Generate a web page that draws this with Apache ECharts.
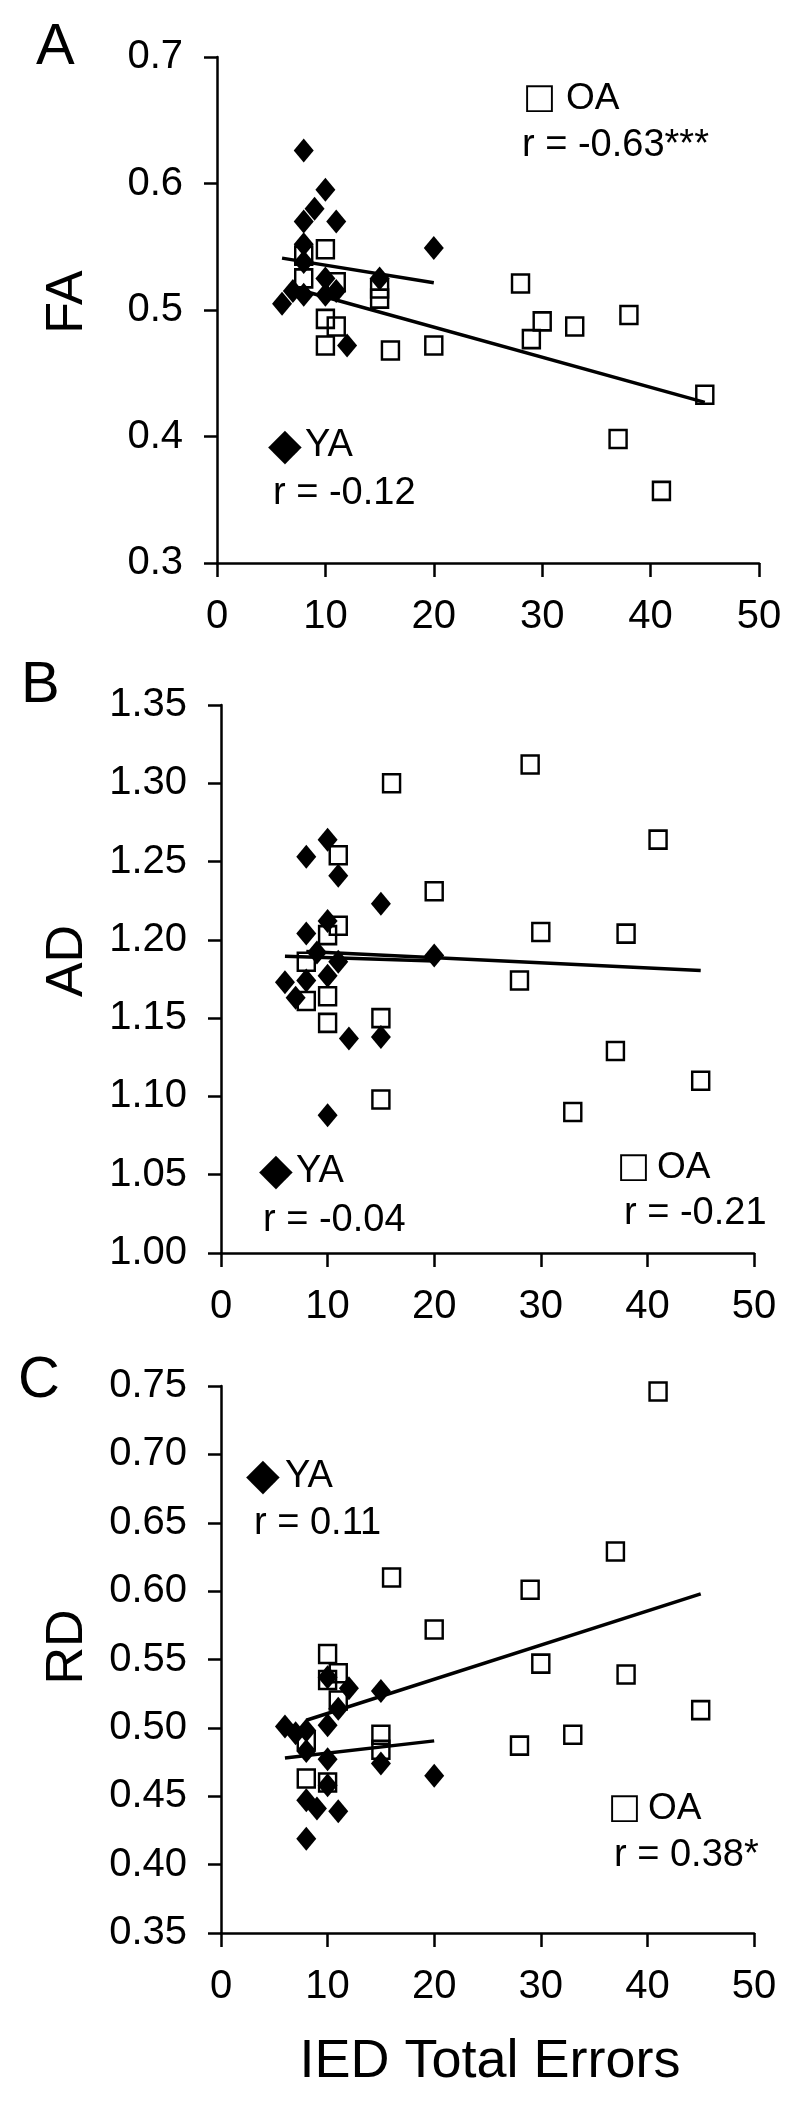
<!DOCTYPE html>
<html>
<head>
<meta charset="utf-8">
<script src="https://cdn.jsdelivr.net/npm/echarts@6/dist/echarts.min.js"></script>
<style>
  html, body { margin: 0; padding: 0; background: #fff; }
  #chart { width: 800px; height: 2108px; }
</style>
</head>
<body>
<div id="chart"></div>
<script>
// IED total errors (x) for each group, per panel
var faYaErrors = [6, 7, 8, 8, 8, 8, 8, 9, 10, 10, 10, 11, 11, 12, 15, 20];
var faYa       = [0.505, 0.515, 0.626, 0.570, 0.552, 0.538, 0.512, 0.580, 0.595, 0.525, 0.512, 0.570, 0.515, 0.472, 0.525, 0.549];
var faOaErrors = [8, 8, 10, 10, 10, 11, 11, 15, 15, 16, 20, 28, 29, 30, 33, 37, 38, 41, 45];
var faOa       = [0.543, 0.525, 0.548, 0.493, 0.472, 0.522, 0.487, 0.517, 0.509, 0.468, 0.472, 0.521, 0.477, 0.491, 0.487, 0.398, 0.496, 0.357, 0.433];

var adYaErrors = [6, 7, 8, 8, 8, 9, 10, 10, 10, 10, 11, 11, 12, 15, 15, 20];
var adYa       = [1.173, 1.163, 1.253, 1.204, 1.174, 1.192, 1.264, 1.212, 1.177, 1.088, 1.241, 1.186, 1.137, 1.223, 1.138, 1.190];
var adOaErrors = [8, 8, 10, 10, 10, 11, 11, 15, 15, 16, 20, 28, 29, 30, 33, 37, 38, 41, 45];
var adOa       = [1.186, 1.161, 1.203, 1.164, 1.147, 1.254, 1.209, 1.150, 1.098, 1.300, 1.231, 1.174, 1.312, 1.205, 1.090, 1.129, 1.204, 1.264, 1.110];

var rdYaErrors = [6, 7, 8, 8, 8, 8, 9, 10, 10, 10, 10, 11, 11, 12, 15, 15, 20];
var rdYa       = [0.501, 0.496, 0.498, 0.483, 0.447, 0.419, 0.441, 0.537, 0.502, 0.477, 0.458, 0.514, 0.439, 0.529, 0.527, 0.474, 0.465];
var rdOaErrors = [8, 8, 10, 10, 10, 11, 11, 15, 15, 16, 20, 28, 29, 30, 33, 37, 38, 41, 45];
var rdOa       = [0.491, 0.463, 0.554, 0.535, 0.460, 0.540, 0.520, 0.495, 0.484, 0.610, 0.572, 0.487, 0.601, 0.547, 0.495, 0.629, 0.539, 0.746, 0.513];

// regression lines (end points)
var faYaFit = [[6, 0.541], [20, 0.5215]];
var faOaFit = [[8, 0.515], [45, 0.427]];
var adYaFit = [[6, 1.1895], [20, 1.1865]];
var adOaFit = [[8, 1.1925], [45, 1.1805]];
var rdYaFit = [[6, 0.478], [20, 0.4905]];
var rdOaFit = [[8, 0.5056], [45, 0.598]];

var xTicks = [0, 50, 10];          // min, max, interval
var faTicks = [0.3, 0.7, 0.1];
var adTicks = [1.00, 1.35, 0.05];
var rdTicks = [0.35, 0.75, 0.05];

var FONT = '"Liberation Sans", Arial, sans-serif';

function pairs(xs, ys) {
    return xs.map(function (x, i) { return [x, ys[i]]; });
}

function xAxis(idx) {
    return {
        type: 'value', gridIndex: idx,
        min: xTicks[0], max: xTicks[1], interval: xTicks[2],
        splitLine: {show: false},
        axisLine: {show: true, onZero: false, lineStyle: {color: '#000', width: 2.5}},
        axisTick: {show: true, length: 14, lineStyle: {color: '#000', width: 2.5}},
        axisLabel: {fontSize: 40, color: '#000', fontFamily: FONT, margin: 34}
    };
}

function yAxis(idx, ticks, digits) {
    return {
        type: 'value', gridIndex: idx,
        min: ticks[0], max: ticks[1], interval: ticks[2],
        splitLine: {show: false},
        axisLine: {show: true, onZero: false, lineStyle: {color: '#000', width: 2.5}},
        axisTick: {show: true, length: 13, lineStyle: {color: '#000', width: 2.5}},
        axisLabel: {
            fontSize: 40, color: '#000', fontFamily: FONT, margin: 34,
            formatter: function (v) { return v.toFixed(digits); }
        }
    };
}

function oaSeries(idx, data) {
    return {
        type: 'scatter', xAxisIndex: idx, yAxisIndex: idx, data: data,
        symbol: 'rect', symbolSize: [17, 18], z: 2,
        itemStyle: {color: 'rgba(255,255,255,0)', borderColor: '#000', borderWidth: 2.5, opacity: 1}
    };
}

function yaSeries(idx, data) {
    return {
        type: 'scatter', xAxisIndex: idx, yAxisIndex: idx, data: data,
        symbol: 'diamond', symbolSize: [20, 24], z: 3,
        itemStyle: {color: '#000', opacity: 1}
    };
}

function fitSeries(idx, data) {
    return {
        type: 'line', xAxisIndex: idx, yAxisIndex: idx, data: data,
        showSymbol: false, symbol: 'none', z: 4,
        lineStyle: {color: '#000', width: 3.5}
    };
}

function label(text, x, y, size, opts) {
    var el = {
        type: 'text', x: x, y: y,
        style: {text: text, fontSize: size, fontFamily: FONT, fill: '#000',
                align: 'left', verticalAlign: 'middle'}
    };
    if (opts) {
        for (var k in opts) el[k] = opts[k];
        if (opts.align) el.style.align = opts.align;
    }
    return el;
}

function icon(ch, x, y, size) {
    return {
        type: 'text', x: x, y: y,
        style: {text: ch, fontSize: size, fontFamily: '"DejaVu Sans"', fill: '#000',
                align: 'left', verticalAlign: 'middle'}
    };
}

var myChart = echarts.init(document.getElementById('chart'), null, {renderer: 'canvas'});

myChart.setOption({
    animation: false,
    backgroundColor: '#fff',
    grid: [
        {left: 217, width: 542, top: 57, height: 506},
        {left: 221, width: 533, top: 705, height: 548},
        {left: 221, width: 533, top: 1386, height: 547}
    ],
    xAxis: [xAxis(0), xAxis(1), xAxis(2)],
    yAxis: [yAxis(0, faTicks, 1), yAxis(1, adTicks, 2), yAxis(2, rdTicks, 2)],
    series: [
        oaSeries(0, pairs(faOaErrors, faOa)),
        yaSeries(0, pairs(faYaErrors, faYa)),
        fitSeries(0, faYaFit),
        fitSeries(0, faOaFit),

        oaSeries(1, pairs(adOaErrors, adOa)),
        yaSeries(1, pairs(adYaErrors, adYa)),
        fitSeries(1, adYaFit),
        fitSeries(1, adOaFit),

        oaSeries(2, pairs(rdOaErrors, rdOa)),
        yaSeries(2, pairs(rdYaErrors, rdYa)),
        fitSeries(2, rdYaFit),
        fitSeries(2, rdOaFit)
    ],
    graphic: [
        // panel letters
        label('A', 36, 48, 58),
        label('B', 21, 686, 58),
        label('C', 18, 1381, 58),
        // axis titles
        label('FA', 68, 302, 52, {rotation: Math.PI / 2, align: 'center'}),
        label('AD', 68, 961, 52, {rotation: Math.PI / 2, align: 'center'}),
        label('RD', 68, 1647, 52, {rotation: Math.PI / 2, align: 'center'}),
        label('IED Total Errors', 490, 2062, 54, {align: 'center'}),

        // panel A legend
        icon('□', 523, 99, 35),
        label('OA', 566, 99, 37),
        label('r = -0.63***', 522, 146, 38),
        icon('◆', 268, 448, 44),
        label('YA', 305, 446, 38),
        label('r = -0.12', 273, 494, 38),

        // panel B legend
        icon('◆', 259, 1173, 44),
        label('YA', 296, 1172, 38),
        label('r = -0.04', 263, 1221, 38),
        icon('□', 617, 1168, 35),
        label('OA', 657, 1168, 37),
        label('r = -0.21', 624, 1214, 38),

        // panel C legend
        icon('◆', 246, 1478, 44),
        label('YA', 285, 1477, 38),
        label('r = 0.11', 254, 1524, 38),
        icon('□', 608, 1809, 35),
        label('OA', 648, 1809, 37),
        label('r = 0.38*', 614, 1856, 38)
    ]
});
</script>
</body>
</html>
